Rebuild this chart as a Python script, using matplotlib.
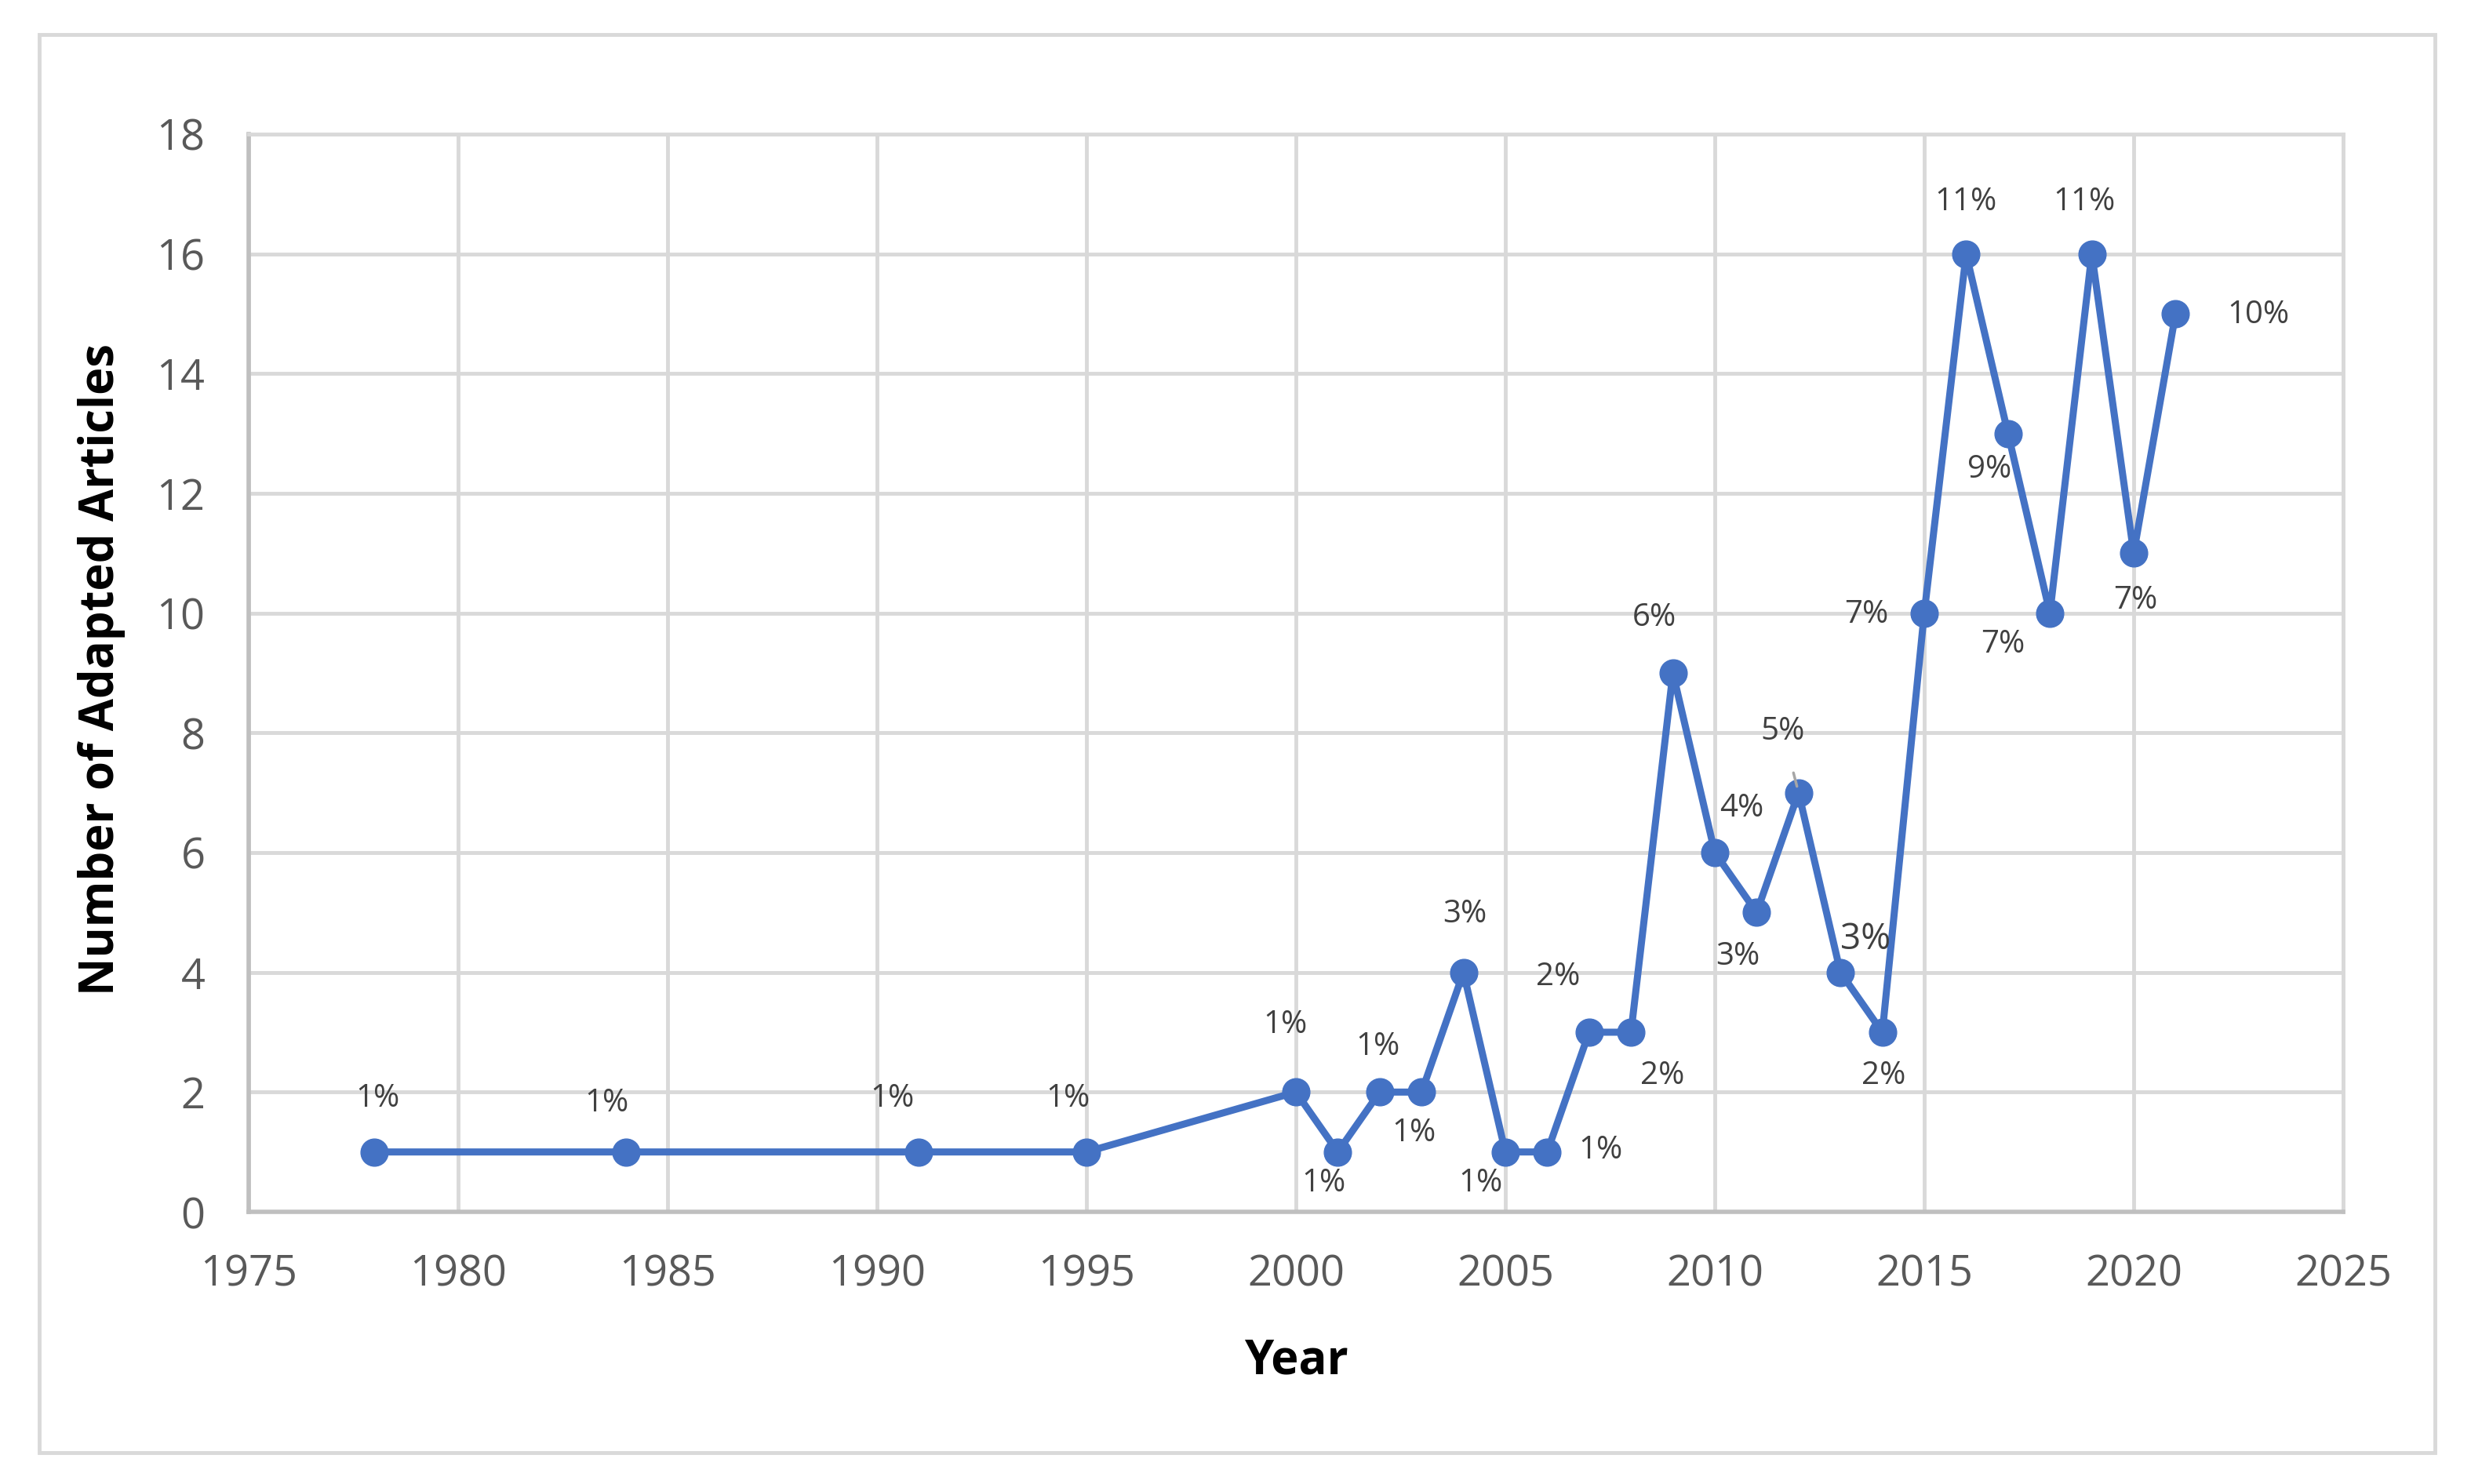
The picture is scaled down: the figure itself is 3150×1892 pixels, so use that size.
import numpy as np
import matplotlib
matplotlib.use('Agg')
import matplotlib.pyplot as plt
from matplotlib.patches import Rectangle

# data
years = [1978, 1984, 1991, 1995, 2000, 2001, 2002, 2003, 2004, 2005, 2006, 2007, 2008,
         2009, 2010, 2011, 2012, 2013, 2014, 2015, 2016, 2017, 2018, 2019, 2020, 2021]
articles = [1, 1, 1, 1, 2, 1, 2, 2, 4, 1, 1, 3, 3,
            9, 6, 5, 7, 4, 3, 10, 16, 13, 10, 16, 11, 15]
pct_labels = ['1%', '1%', '1%', '1%', '1%', '1%', '1%', '1%', '3%', '1%', '1%', '2%', '2%',
              '6%', '4%', '3%', '5%', '3%', '2%', '7%', '11%', '9%', '7%', '11%', '7%', '10%']
x_ticks = [1975, 1980, 1985, 1990, 1995, 2000, 2005, 2010, 2015, 2020, 2025]
y_ticks = [0, 2, 4, 6, 8, 10, 12, 14, 16, 18]

# label offsets (pixels) relative to the marker
offsets = [(4, 68), (-24, 62), (-34, 68), (-24, 68), (-14, 86), (-18, -40), (-2, 58),
           (-10, -52), (2, 74), (-32, -40), (68, 2), (-40, 70), (40, -56),
           (-24, 70), (34, 56), (-24, -56), (-20, 78), (32, 42), (2, -56), (-74, -2),
           (0, 66), (-24, -46), (-60, -40), (-10, 66), (2, -60), (106, -2)]

plt.rcParams['font.family'] = ['Open Sans', 'DejaVu Sans']

fig = plt.figure(figsize=(31.5, 18.92), dpi=100)
fig.patches.append(Rectangle((50 / 3150, 1 - 1852 / 1892), 3054 / 3150, 1808 / 1892,
                             transform=fig.transFigure, fill=False,
                             edgecolor='#d9d9d9', linewidth=3.5))

ax = fig.add_axes([317 / 3150, 1 - 1545 / 1892, 2670 / 3150, 1374 / 1892])

ax.plot(years, articles, color='#4472C4', linewidth=6.5, marker='o',
        markersize=25, zorder=3, solid_joinstyle='round')

for i in range(len(years)):
    dx, dy = offsets[i]
    if pct_labels[i] == '5%' and years[i] == 2012:
        ax.annotate(pct_labels[i], (years[i], articles[i]), xytext=(dx, dy),
                    textcoords='offset pixels', ha='center', va='center',
                    fontsize=29, color='#404040',
                    arrowprops=dict(arrowstyle='-', color='#a6a6a6', lw=2.5,
                                    shrinkA=22, shrinkB=6))
    else:
        fs = 33 if (years[i] == 2013) else 29
        ax.annotate(pct_labels[i], (years[i], articles[i]), xytext=(dx, dy),
                    textcoords='offset pixels', ha='center', va='center',
                    fontsize=fs, color='#404040')

ax.set_xlim(1975, 2025)
ax.set_ylim(0, 18)
ax.set_xticks(x_ticks)
ax.set_yticks(y_ticks)
ax.tick_params(axis='both', length=0, labelsize=39, labelcolor='#595959')
ax.tick_params(axis='y', pad=40)
ax.tick_params(axis='x', pad=38)

ax.grid(True, color='#d9d9d9', linewidth=3.5)
ax.set_axisbelow(True)
for side in ['top', 'right']:
    ax.spines[side].set_color('#d9d9d9')
    ax.spines[side].set_linewidth(3.5)
for side in ['left', 'bottom']:
    ax.spines[side].set_color('#bfbfbf')
    ax.spines[side].set_linewidth(4)

ax.set_xlabel('Year', fontsize=43, fontweight='bold', color='black', va='center')
ax.xaxis.set_label_coords(0.5, -(1736 - 1545) / 1374)
ax.set_ylabel('Number of Adapted Articles', fontsize=43, fontweight='bold',
              color='black', va='center')
ax.yaxis.set_label_coords((130 - 317) / 2670, 0.503)

fig.savefig('out.png', dpi=100)
